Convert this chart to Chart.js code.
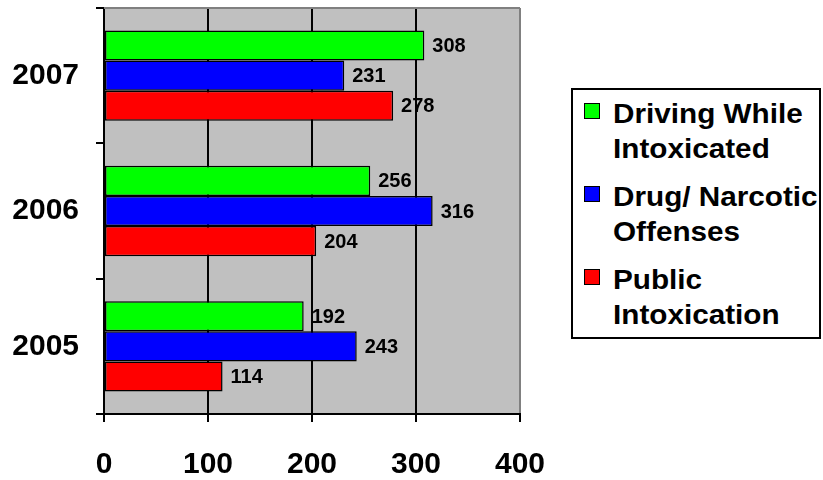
<!DOCTYPE html>
<html>
<head>
<meta charset="utf-8">
<script src="https://cdn.jsdelivr.net/npm/chart.js@4.4.1/dist/chart.umd.min.js"></script>
<style>
  html, body { margin: 0; padding: 0; background: #fff; }
  #wrap { position: relative; width: 823px; height: 480px; font-family: "Liberation Sans", Arial, sans-serif; }
  #c { position: absolute; left: 0; top: 0; }
  #legend { position: absolute; left: 571px; top: 88px; width: 246px; height: 247px; border: 2px solid #000; background: #fff; box-sizing: content-box; }
  .item { position: absolute; left: 0; font-weight: bold; font-size: 27px; line-height: 35px; color: #000; }
  .box { position: absolute; left: 11px; width: 14px; height: 14px; border: 1.5px solid #000; }
  .txt { position: absolute; left: 40px; white-space: nowrap; transform: scaleX(1.1); transform-origin: 0 0; }
</style>
</head>
<body>
<div id="wrap">
  <canvas id="c" width="823" height="480"></canvas>
  <div id="legend"></div>
</div>
<script>
const categories = ['2007', '2006', '2005'];
const seriesNames = [['Driving While', 'Intoxicated'], ['Drug/ Narcotic', 'Offenses'], ['Public', 'Intoxication']];
const dwiValues = [308, 256, 192];
const drugValues = [231, 316, 243];
const publicValues = [278, 204, 114];
const seriesColors = ['#00FF00', '#0000FF', '#FF0000'];
const xTicks = [0, 100, 200, 300, 400];

const FONT = '"Liberation Sans", Arial, sans-serif';

const bgPlugin = {
  id: 'bg',
  beforeDraw(chart) {
    const a = chart.chartArea, ctx = chart.ctx;
    ctx.save();
    ctx.fillStyle = '#C0C0C0';
    ctx.fillRect(a.left, a.top, a.right - a.left, a.bottom - a.top);
    ctx.restore();
  },
  beforeDatasetsDraw(chart) {
    const a = chart.chartArea, ctx = chart.ctx;
    ctx.save();
    ctx.strokeStyle = '#808080';
    ctx.lineWidth = 2;
    ctx.beginPath();
    ctx.moveTo(a.left, a.top);
    ctx.lineTo(a.right, a.top);
    ctx.stroke();
    ctx.restore();
  }
};

const labelPlugin = {
  id: 'vlabels',
  afterDatasetsDraw(chart) {
    const ctx = chart.ctx;
    ctx.save();
    ctx.font = 'bold 20px ' + FONT;
    ctx.fillStyle = '#000';
    ctx.textAlign = 'left';
    ctx.textBaseline = 'middle';
    chart.data.datasets.forEach((ds, i) => {
      const meta = chart.getDatasetMeta(i);
      meta.data.forEach((el, j) => {
        ctx.fillText(String(ds.data[j]), el.x + 8, el.y + 1);
      });
    });
    ctx.restore();
  }
};

const allValues = [dwiValues, drugValues, publicValues];
new Chart(document.getElementById('c'), {
  type: 'bar',
  data: {
    labels: categories,
    datasets: allValues.map((vals, i) => ({
      label: seriesNames[i].join(' '),
      data: vals,
      backgroundColor: seriesColors[i],
      borderColor: '#000',
      borderWidth: 1.5,
      borderSkipped: false,
      categoryPercentage: 0.667,
      barPercentage: 1.0
    }))
  },
  options: {
    indexAxis: 'y',
    responsive: false,
    animation: false,
    devicePixelRatio: 1,
    layout: { padding: { left: 0, right: 303, top: 8, bottom: 0 } },
    plugins: { legend: { display: false }, tooltip: { enabled: false } },
    scales: {
      x: {
        min: 0, max: 400,
        afterBuildTicks(axis) { axis.ticks = xTicks.map(v => ({ value: v })); },
        afterFit(axis) { axis.height = 66; axis.paddingLeft = 0; axis.paddingRight = 0; },
        grid: {
          color: ctx => (ctx.tick && ctx.tick.value === 400) ? '#808080' : '#000',
          tickColor: '#000',
          lineWidth: 2,
          tickLength: 8
        },
        border: { color: '#000', width: 2 },
        ticks: { color: '#000', padding: 25, font: { family: FONT, size: 30, weight: 'bold' } }
      },
      y: {
        afterFit(axis) { axis.width = 104; axis.paddingTop = 0; axis.paddingBottom = 0; },
        grid: { drawOnChartArea: false, drawTicks: true, tickLength: 8, tickColor: '#000', lineWidth: 2, offset: true },
        border: { color: '#000', width: 2 },
        ticks: { color: '#000', padding: 17, font: { family: FONT, size: 30, weight: 'bold' } }
      }
    }
  },
  plugins: [bgPlugin, labelPlugin]
});

// HTML legend
const legend = document.getElementById('legend');
const itemTops = [7, 90, 173];
seriesNames.forEach((lines, i) => {
  const item = document.createElement('div');
  item.className = 'item';
  item.style.top = itemTops[i] + 'px';
  const box = document.createElement('div');
  box.className = 'box';
  box.style.top = '6px';
  box.style.background = seriesColors[i];
  const txt = document.createElement('div');
  txt.className = 'txt';
  txt.innerHTML = lines.join('<br>');
  item.appendChild(box);
  item.appendChild(txt);
  legend.appendChild(item);
});
</script>
</body>
</html>
